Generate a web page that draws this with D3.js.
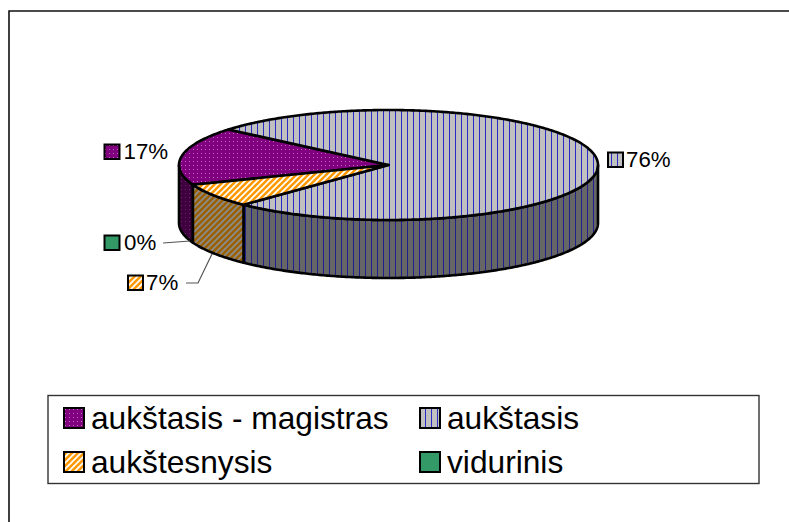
<!DOCTYPE html>
<html><head><meta charset="utf-8">
<script src="https://cdn.jsdelivr.net/npm/d3@7"></script>
<style>html,body{margin:0;padding:0;background:#fff}svg{display:block}text{font-family:"Liberation Sans",Arial,sans-serif;fill:#000}</style>
</head><body><svg id="c" width="789" height="522"></svg>
<script>
const categories = ["aukštasis - magistras","aukštasis","aukštesnysis","vidurinis"];
const values = [17,76,7,0];
const labels = ["17%","76%","7%","0%"];
const topColors = ["#800080","#c0c0c0","#ff9900","#339966"];
const sideColors = ["#400040","#666666","#996000","#1f5c3d"];

const svg = d3.select("#c");
const defs = svg.append("defs");
function pat(id, w, h, bg, draw){
  const p = defs.append("pattern").attr("id",id).attr("patternUnits","userSpaceOnUse").attr("width",w).attr("height",h);
  p.append("rect").attr("width",w).attr("height",h).attr("fill",bg);
  draw(p);
}
function dots(p,col){ p.append("rect").attr("x",1).attr("y",1).attr("width",1).attr("height",1).attr("fill",col); }
function vlines(col){ return p=>p.append("rect").attr("x",5).attr("width",1).attr("height",6).attr("fill",col); }
function diag(p,col){ p.append("path").attr("d","M-1,7 L7,-1 M-1,1 L1,-1 M5,7 L7,5").attr("stroke",col).attr("stroke-width",1.7).attr("fill","none"); }
pat("t0",4,4,topColors[0],p=>dots(p,"#b870b8"));
pat("s0",4,4,sideColors[0],p=>dots(p,"#5c2a5c"));
pat("t1",6,6,topColors[1],vlines("#2a2ac4"));
pat("s1",6,6,sideColors[1],vlines("#20208c"));
pat("t2",6,6,topColors[2],p=>diag(p,"#fff"));
pat("s2",6,6,sideColors[2],p=>diag(p,"#8c8c8c"));

svg.append("path").attr("d","M789,11 L9,11 L9,522").attr("fill","none").attr("stroke","#111").attr("stroke-width",1.6);

const cx=388.5, cy=165, rx=209.5, ry=55, depth=58;
const sx=d3.scaleLinear().domain([-1,1]).range([cx-rx,cx+rx]);
const sy=d3.scaleLinear().domain([-1,1]).range([cy-ry,cy+ry]);
const start=249*Math.PI/180;
const arcs=d3.pie().sort(null).startAngle(start).endAngle(start+2*Math.PI)(values);
const line=d3.line().x(d=>d[0]).y(d=>d[1]);
const P=(a,dy=0)=>[sx(Math.sin(a)),sy(-Math.cos(a))+dy];
function samples(a0,a1,dy=0){
  const n=Math.max(2,Math.ceil(Math.abs(a1-a0)/0.01)),o=[];
  for(let i=0;i<=n;i++)o.push(P(a0+(a1-a0)*i/n,dy));
  return o;
}
const g=svg.append("g").attr("stroke","#000").attr("stroke-width",2.6).attr("stroke-linejoin","round");
const H=Math.PI/2, F=3*Math.PI/2, T=2*Math.PI;
function rim(a0,a1,fill){
  for(const k of [0,1]){
    const l=Math.max(a0,H+k*T), r=Math.min(a1,F+k*T);
    if(r>l){
      const pts=samples(l,r).concat(samples(r,l,depth));
      g.append("path").attr("d",line(pts)+"Z").attr("fill",fill);
    }
  }
}
arcs.forEach(d=>{ if(d.value>0) rim(d.startAngle,d.endAngle,`url(#s${d.index})`); });
arcs.forEach(d=>{
  if(d.value<=0) return;
  const pts=[[cx,cy]].concat(samples(d.startAngle,d.endAngle));
  g.append("path").attr("d",line(pts)+"Z").attr("fill",`url(#t${d.index})`);
});

const dl=[[104,144,123.5,159],[607.5,152,626,167],[127.5,275,146,290],[104,235,124,250]];
labels.forEach((t,i)=>{
  const [x,y,tx,ty]=dl[i];
  svg.append("rect").attr("x",x+.5).attr("y",y+.5).attr("width",15).attr("height",14.5)
    .attr("fill",i===3?topColors[3]:`url(#t${i})`).attr("stroke","#000").attr("stroke-width",2);
  svg.append("text").attr("x",tx).attr("y",ty).attr("font-size",22.3).text(t);
});
svg.append("path").attr("d","M163,243 L190,241").attr("stroke","#555").attr("stroke-width",1.2).attr("fill","none");
svg.append("path").attr("d","M186,283 L198,283 L212,254").attr("stroke","#555").attr("stroke-width",1.2).attr("fill","none");

svg.append("rect").attr("x",48).attr("y",395.5).attr("width",711).attr("height",88).attr("fill","#fff").attr("stroke","#333").attr("stroke-width",1.4);
const lg=[[63,407],[419,407],[63,451],[419,451]];
categories.forEach((t,i)=>{
  const [x,y]=lg[i];
  svg.append("rect").attr("x",x+1).attr("y",y+1).attr("width",20).attr("height",20)
    .attr("fill",i===3?topColors[3]:`url(#t${i})`).attr("stroke","#000").attr("stroke-width",2);
  svg.append("text").attr("x",x+28).attr("y",y+22).attr("font-size",31.7).text(t);
});
</script></body></html>
